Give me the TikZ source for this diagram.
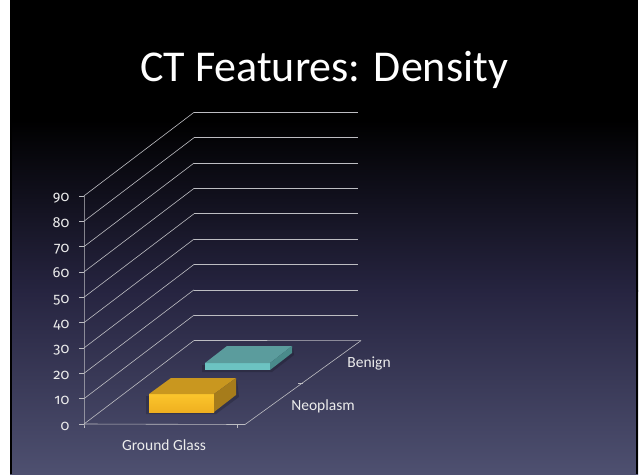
\documentclass[tikz,border=0pt]{standalone}
\usepackage{fontspec}
\setmainfont{Carlito}
\newfontfamily\numfont{Fira Sans}[Numbers=OldStyle]
\definecolor{bgmid}{HTML}{262440}
\definecolor{bgbot}{HTML}{4E5070}
\definecolor{gridgray}{HTML}{BDBDC2}
\definecolor{labelgray}{HTML}{ECECEC}
\definecolor{goldtop}{HTML}{C9971F}
\definecolor{goldfronta}{HTML}{FBC52C}
\definecolor{goldfrontb}{HTML}{EFB020}
\definecolor{goldside}{HTML}{A67C1B}
\definecolor{tealtop}{HTML}{5B9C9D}
\definecolor{tealfront}{HTML}{6CC3C2}
\definecolor{tealside}{HTML}{4A8B8B}
\begin{document}
\begin{tikzpicture}[x=1pt,y=-1pt,
  grid/.style={draw=gridgray, line width=0.6pt},
  lbl/.style={text=labelgray, font=\fontsize{15.5}{18}\selectfont, inner sep=0pt},
  numlbl/.style={text=labelgray, font=\numfont\fontsize{14.5}{17}\selectfont, inner sep=0pt},
  barshadow/.style={fill=black, opacity=0.18}]
\useasboundingbox (0,0) rectangle (642,474);
% slide background
\fill[white] (0,0) rectangle (642,474);
\fill[black] (10,0) rectangle (638,121);
\shade[top color=black, bottom color=bgmid] (10,120) rectangle (638,291);
\shade[top color=bgmid, bottom color=bgbot] (10,290) rectangle (638,474);
\fill[black] (10,0) rectangle (12,474);
\fill[black] (636,0) rectangle (638,474);
% title
\node[text=white, font=\fontsize{44}{50}\selectfont, anchor=base, inner sep=0pt]
  (title) at (324,81.7) {CT Features: Density};
% back wall and side wall gridlines with value labels
\foreach \k/\t in {0/0,1/10,2/20,3/30,4/40,5/50,6/60,7/70,8/80,9/90} {
  \pgfmathsetmacro\yf{424-25.35*\k}
  \coordinate (f\k) at (84,\yf);
  \draw[grid] (f\k) -- ++(110,-83.5) coordinate (b\k);
  \draw[grid] (79,\yf) -- (f\k);
  \node[numlbl, anchor=base east] (v\k) at (69.5,\yf+6) {\t};
}
\foreach \k in {1,...,9} { \draw[grid] (b\k) -- ++(164,0); }
% floor
\coordinate (fr) at (245,424.5);
\coordinate (br) at (361,340.6);
\draw[grid] (b0) -- (br);
\draw[grid] (f0) -- (fr) -- (br);
\draw[grid] (f9) -- (f0) -- ++(0,4);
\draw[grid] (237,424.4) -- ++(0,4);
\draw[grid] (303,383) -- ++(-5,0);
% Neoplasm bar (gold)
\fill[barshadow] (146,396) -- (214,396) -- (237,380) -- (239,397) -- (216,414) -- (146,414) -- cycle;
\shade[top color=goldfronta, bottom color=goldfrontb] (149,394) rectangle (214,412);
\fill[goldtop] (149,394) -- (214,394) -- (236,378) -- (171,378) -- cycle;
\fill[goldside] (214,394) -- (236,378) -- (236,395) -- (214,412) -- cycle;
% Benign bar (teal)
\fill[barshadow] (202,365) -- (270,365) -- (293,348) -- (294,355) -- (272,372) -- (202,372) -- cycle;
\fill[tealfront] (205,363) rectangle (270,370);
\fill[tealtop] (205,363) -- (270,363) -- (292,346) -- (227,346) -- cycle;
\fill[tealside] (270,363) -- (292,346) -- (292,353) -- (270,370) -- cycle;
% category labels
\node[lbl, anchor=base] (gg) at (164,450) {Ground Glass};
\node[lbl, anchor=base] (neo) at (323,410) {Neoplasm};
\node[lbl, anchor=base] (ben) at (369,367.5) {Benign};
\end{tikzpicture}
\end{document}
